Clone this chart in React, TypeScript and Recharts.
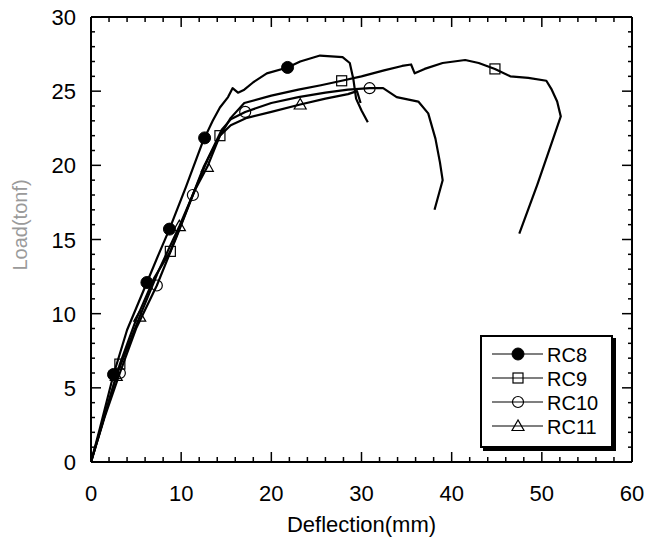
import React from 'react';
import { ComposedChart, Line, Scatter, XAxis, YAxis, ReferenceLine } from 'recharts';

// deflection (mm) / load (tonf)
const rc8Defl = [0, 1, 2, 2.5, 4, 6.2, 7.5, 8.7, 10.5, 12.4, 13.5, 14.3, 15.2, 15.7, 16.3, 17, 18, 19.5, 21.8, 23.2, 25.4, 27.9, 28.7, 29.1, 29.4, 30, 30.7];
const rc8Load = [0, 2.3, 4.7, 5.9, 8.9, 12.1, 14.0, 15.7, 18.5, 21.6, 23.0, 23.9, 24.6, 25.2, 24.9, 25.1, 25.6, 26.2, 26.6, 27.0, 27.4, 27.3, 26.9, 25.8, 24.5, 23.7, 22.9];
const rc8MarkDefl = [2.5, 6.2, 8.7, 12.6, 21.8];
const rc8MarkLoad = [5.9, 12.1, 15.7, 21.85, 26.6];

const rc9Defl = [0, 1.5, 3.2, 5, 7, 8.8, 10.5, 12.5, 14.3, 15.5, 17, 20, 23, 25.5, 27.8, 30, 32.5, 34.5, 35.5, 35.9, 37, 39, 41.5, 43, 44.8, 46.5, 48.5, 50.5, 51.1, 51.7, 52.1, 51.2, 49.5, 47.5];
const rc9Load = [0, 3.1, 6.6, 9.6, 12.4, 14.2, 16.8, 19.9, 22.0, 23.2, 24.2, 24.7, 25.1, 25.4, 25.7, 26.0, 26.4, 26.7, 26.8, 26.2, 26.5, 26.9, 27.1, 26.9, 26.5, 26.0, 25.9, 25.7, 25.1, 24.3, 23.3, 21.7, 18.7, 15.4];
const rc9MarkDefl = [3.2, 8.8, 14.3, 27.8, 44.8];
const rc9MarkLoad = [6.6, 14.2, 22.0, 25.7, 26.5];

const rc10Defl = [0, 1.5, 3.2, 5, 7.3, 9.5, 11.3, 13, 14.5, 15.5, 17.1, 20, 23, 26, 28.5, 30.9, 32.4, 33.9, 36.3, 37.4, 38.2, 38.7, 39, 38.1];
const rc10Load = [0, 3.0, 6.0, 9.0, 11.9, 15.2, 18.0, 20.5, 22.4, 23.1, 23.6, 24.2, 24.6, 24.9, 25.1, 25.2, 25.2, 24.6, 24.3, 23.5, 21.8, 20.2, 19.0, 17.0];
const rc10MarkDefl = [3.2, 7.3, 11.3, 17.1, 30.9];
const rc10MarkLoad = [6.0, 11.9, 18.0, 23.6, 25.2];

const rc11Defl = [0, 1.5, 2.8, 5.4, 7.5, 9.8, 11.5, 12.9, 14.3, 15.5, 17.3, 20, 23.2, 26, 28.5, 29.5, 29.9];
const rc11Load = [0, 3.1, 5.8, 9.8, 12.9, 15.9, 18.3, 19.9, 22.0, 22.7, 23.2, 23.6, 24.1, 24.5, 24.8, 25.0, 24.2];
const rc11MarkDefl = [2.8, 5.4, 9.8, 12.9, 23.2];
const rc11MarkLoad = [5.8, 9.8, 15.9, 19.9, 24.1];

const seriesNames = ['RC8', 'RC9', 'RC10', 'RC11'];
const xTicks = [0, 2, 4, 6, 8, 10, 12, 14, 16, 18, 20, 22, 24, 26, 28, 30, 32, 34, 36, 38, 40, 42, 44, 46, 48, 50, 52, 54, 56, 58, 60];
const yTicks = [0, 1, 2, 3, 4, 5, 6, 7, 8, 9, 10, 11, 12, 13, 14, 15, 16, 17, 18, 19, 20, 21, 22, 23, 24, 25, 26, 27, 28, 29, 30];

const zip = (xs: number[], ys: number[]) => xs.map((x, i) => ({ x, y: ys[i] }));

const W = 652;
const H = 544;
const M = { top: 17, right: 20, bottom: 0, left: 0 };
const X_AXIS_H = 82;
const Y_AXIS_W = 91;
const TOP = M.top;
const BOTTOM = H - M.bottom - X_AXIS_H;
const LEFT = M.left + Y_AXIS_W;
const RIGHT = W - M.right;
const FONT = '"Liberation Sans", Arial, sans-serif';

const XTick = (props: any) => {
  const { x, payload } = props;
  const major = payload.value % 10 === 0;
  const len = major ? 10 : 5;
  return (
    <g>
      <line x1={x} x2={x} y1={BOTTOM} y2={BOTTOM - len} stroke="#000" strokeWidth={1.5} />
      <line x1={x} x2={x} y1={TOP} y2={TOP + len} stroke="#000" strokeWidth={1.5} />
      {major && (
        <text x={x} y={BOTTOM + 39} textAnchor="middle" fontSize={22} fontFamily={FONT} fill="#000">
          {payload.value}
        </text>
      )}
    </g>
  );
};

const YTick = (props: any) => {
  const { y, payload } = props;
  const major = payload.value % 5 === 0;
  const len = major ? 10 : 4;
  return (
    <g>
      <line x1={LEFT} x2={LEFT + len} y1={y} y2={y} stroke="#000" strokeWidth={1.5} />
      <line x1={RIGHT} x2={RIGHT - len} y1={y} y2={y} stroke="#000" strokeWidth={1.5} />
      {major && (
        <text x={LEFT - 15} y={y + 8} textAnchor="end" fontSize={22} fontFamily={FONT} fill="#000">
          {payload.value}
        </text>
      )}
    </g>
  );
};

const XLabel = () => (
  <text x={(LEFT + RIGHT) / 2} y={H - 12} textAnchor="middle" fontSize={22} fontFamily={FONT} fill="#000">
    Deflection(mm)
  </text>
);

const YLabel = () => (
  <text
    x={0}
    y={0}
    transform={`translate(27, 225) rotate(-90)`}
    textAnchor="middle"
    fontSize={20}
    fontFamily={FONT}
    fill="#9a9a9a"
  >
    Load(tonf)
  </text>
);

const markerShape = (kind: number, cx: number, cy: number) => {
  if (kind === 0) return <circle cx={cx} cy={cy} r={6} fill="#000" stroke="#000" />;
  if (kind === 1) return <rect x={cx - 5} y={cy - 5} width={10} height={10} fill="none" stroke="#000" strokeWidth={1.2} />;
  if (kind === 2) return <circle cx={cx} cy={cy} r={5.5} fill="none" stroke="#000" strokeWidth={1.2} />;
  return <polygon points={`${cx},${cy - 6} ${cx - 6},${cy + 4.5} ${cx + 6},${cy + 4.5}`} fill="none" stroke="#000" strokeWidth={1.2} />;
};

const lines = [
  zip(rc8Defl, rc8Load),
  zip(rc9Defl, rc9Load),
  zip(rc10Defl, rc10Load),
  zip(rc11Defl, rc11Load),
];
const marks = [
  zip(rc8MarkDefl, rc8MarkLoad),
  zip(rc9MarkDefl, rc9MarkLoad),
  zip(rc10MarkDefl, rc10MarkLoad),
  zip(rc11MarkDefl, rc11MarkLoad),
];

const LegendBox = () => (
  <div
    style={{
      position: 'absolute',
      left: 480,
      top: 335,
      width: 129,
      height: 109,
      border: '2px solid #000',
      boxShadow: '3px 3px 0 #000',
      background: '#fff',
    }}
  >
    <svg width={129} height={109}>
      {seriesNames.map((name, i) => {
        const cy = 17 + i * 24;
        return (
          <g key={name}>
            <line x1={10} x2={61} y1={cy} y2={cy} stroke="#000" strokeWidth={1.2} />
            {markerShape(i, 36, cy)}
            <text x={65} y={cy + 7.5} fontSize={20} fontFamily={FONT} fill="#000">
              {name}
            </text>
          </g>
        );
      })}
    </svg>
  </div>
);

export default function App() {
  return (
    <div style={{ position: 'absolute', left: 0, top: 0, width: W, height: H, background: '#fff' }}>
      <ComposedChart width={W} height={H} margin={M}>
        <XAxis
          type="number"
          dataKey="x"
          domain={[0, 60]}
          ticks={xTicks}
          interval={0}
          allowDataOverflow
          height={X_AXIS_H}
          tickLine={false}
          axisLine={{ stroke: '#000', strokeWidth: 2 }}
          tick={<XTick />}
          label={<XLabel />}
        />
        <YAxis
          type="number"
          dataKey="y"
          domain={[0, 30]}
          ticks={yTicks}
          interval={0}
          allowDataOverflow
          width={Y_AXIS_W}
          tickLine={false}
          axisLine={{ stroke: '#000', strokeWidth: 2 }}
          tick={<YTick />}
          label={<YLabel />}
        />
        <ReferenceLine y={30} stroke="#000" strokeWidth={2} />
        <ReferenceLine x={60} stroke="#000" strokeWidth={2} />
        {lines.map((d, i) => (
          <Line
            key={seriesNames[i]}
            data={d}
            dataKey="y"
            type="linear"
            stroke="#000"
            strokeWidth={2.2}
            strokeLinejoin="round"
            dot={false}
            activeDot={false}
            isAnimationActive={false}
          />
        ))}
        {marks.map((d, i) => (
          <Scatter
            key={'m' + seriesNames[i]}
            data={d}
            dataKey="y"
            isAnimationActive={false}
            shape={(p: any) => markerShape(i, p.cx, p.cy)}
          />
        ))}
      </ComposedChart>
      <LegendBox />
    </div>
  );
}
